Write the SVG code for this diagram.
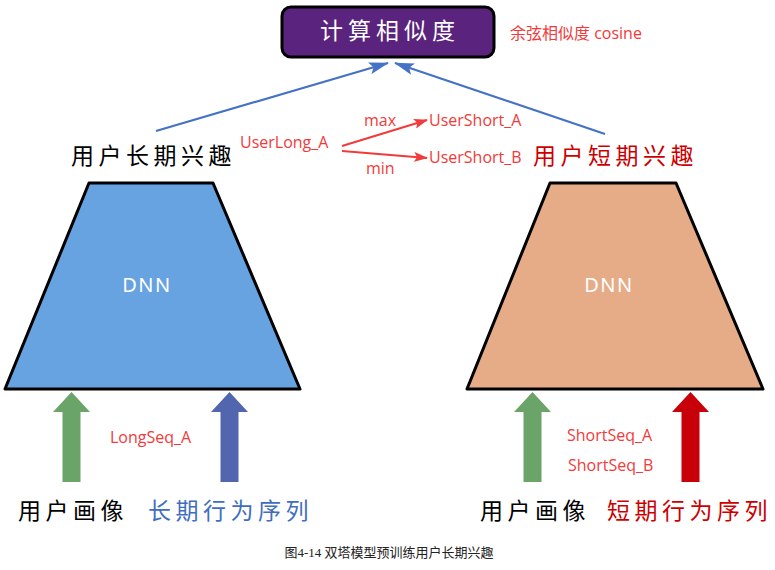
<svg xmlns="http://www.w3.org/2000/svg" width="775" height="570" viewBox="0 0 775 570">
  <style>
    .cjk { font-family: "Noto Sans CJK SC", "Noto Sans", sans-serif; font-size: 23px; letter-spacing: 4.5px; }
    .lbl { font-family: "Open Sans", "Liberation Sans", "Noto Sans CJK SC", sans-serif; font-size: 16px; fill: #F23A3A; }
    .dnn { font-family: "Noto Sans", "Liberation Sans", sans-serif; font-size: 20px; fill: #FFFFFF; letter-spacing: 1.5px; text-anchor: middle; }
    .tower { stroke: #000000; stroke-width: 3; stroke-linejoin: round; }
    .link { stroke: #4472C4; stroke-width: 2.2; fill: none; }
    .pick { stroke: #F23A3A; stroke-width: 2; fill: none; }
  </style>
  <defs>
    <marker id="headBlue" viewBox="0 0 20 12" refX="19" refY="6" markerWidth="20" markerHeight="12" markerUnits="userSpaceOnUse" orient="auto">
      <path d="M0,0 L20,6 L0,12 L4,6 Z" fill="#4472C4"/>
    </marker>
    <marker id="headRed" viewBox="0 0 14 10" refX="13" refY="5" markerWidth="14" markerHeight="10" markerUnits="userSpaceOnUse" orient="auto">
      <path d="M0,0 L14,5 L0,10 L3,5 Z" fill="#F23A3A"/>
    </marker>
  </defs>

  <rect width="775" height="570" fill="#FFFFFF"/>

  <!-- similarity block -->
  <g id="similarity">
    <rect x="282" y="7" width="212" height="50" rx="9" fill="#5A237E" stroke="#000000" stroke-width="3"/>
    <text x="390" y="39" class="cjk" style="letter-spacing:5px" fill="#FFFFFF" text-anchor="middle">计算相似度</text>
    <text x="510" y="39" class="lbl">余弦相似度 cosine</text>
  </g>

  <!-- long-term tower -->
  <g id="long-tower">
    <polygon class="tower" points="89,183 213,183 300,389 5,389" fill="#66A3E0"/>
    <text x="147" y="292" class="dnn">DNN</text>
    <text x="71" y="164" class="cjk" fill="#000000">用户长期兴趣</text>
  </g>

  <!-- short-term tower -->
  <g id="short-tower">
    <polygon class="tower" points="550,183 676,183 763,389 467,389" fill="#E6AC88"/>
    <text x="609" y="292" class="dnn">DNN</text>
    <text x="533" y="164" class="cjk" fill="#CC0000">用户短期兴趣</text>
  </g>

  <!-- embedding labels -->
  <g id="embeddings">
    <text x="240" y="148" class="lbl">UserLong_A</text>
    <text x="364" y="126" class="lbl">max</text>
    <text x="366" y="174" class="lbl">min</text>
    <text x="429" y="126" class="lbl">UserShort_A</text>
    <text x="429" y="163" class="lbl">UserShort_B</text>
  </g>

  <!-- inputs, long side -->
  <g id="long-inputs">
    <polygon points="71.5,392 90,412 80.5,412 80.5,482 62.5,482 62.5,412 53,412" fill="#6AA468"/>
    <polygon points="229.5,392 248,412 238.5,412 238.5,482 220.5,482 220.5,412 211,412" fill="#5166AE"/>
    <text x="110" y="443" class="lbl">LongSeq_A</text>
    <text x="18" y="519" class="cjk" fill="#000000">用户画像</text>
    <text x="148" y="519" class="cjk" fill="#3F6EBE">长期行为序列</text>
  </g>

  <!-- inputs, short side -->
  <g id="short-inputs">
    <polygon points="532.5,392 551,412 541.5,412 541.5,482 523.5,482 523.5,412 514,412" fill="#6AA468"/>
    <polygon points="690.5,392 709,412 699.5,412 699.5,482 681.5,482 681.5,412 672,412" fill="#C8000A"/>
    <text x="567" y="441" class="lbl">ShortSeq_A</text>
    <text x="568" y="471" class="lbl">ShortSeq_B</text>
    <text x="480" y="519" class="cjk" fill="#000000">用户画像</text>
    <text x="607" y="519" class="cjk" fill="#CC0000">短期行为序列</text>
  </g>

  <!-- connectors -->
  <g id="connectors">
    <line class="link" x1="156" y1="131" x2="388" y2="63" marker-end="url(#headBlue)"/>
    <line class="link" x1="605" y1="134" x2="395" y2="63" marker-end="url(#headBlue)"/>
    <line class="pick" x1="342" y1="146" x2="427" y2="120" marker-end="url(#headRed)"/>
    <line class="pick" x1="342" y1="151" x2="427" y2="158" marker-end="url(#headRed)"/>
  </g>

  <!-- caption -->
  <text x="389" y="557" text-anchor="middle" font-family="Liberation Serif, Noto Sans CJK SC, serif" font-size="13" fill="#222222">图4-14 双塔模型预训练用户长期兴趣</text>
</svg>
